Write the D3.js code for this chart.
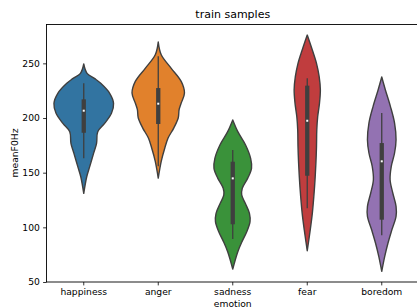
<!DOCTYPE html>
<html><head><meta charset="utf-8">
<script src="https://cdn.jsdelivr.net/npm/d3@7"></script>
<style>body{margin:0;background:#fff;overflow:hidden}svg{display:block}text{font-family:"DejaVu Sans",sans-serif;fill:#000}</style>
</head><body>
<script>
const categories = ["happiness","anger","sadness","fear","boredom"];
const colors = ["#3274a1","#e1812c","#3a923a","#c03d3e","#9372b2"];
const yTicks = [50,100,150,200,250];
// [meanF0Hz, relative density]
const happinessKde = [[249.4,0],[240.9,0.11],[236,0.37],[231.7,0.57],[222.6,0.87],[213.4,1.0],[204.3,0.93],[195.1,0.70],[187.5,0.47],[176.9,0.43],[167.7,0.33],[155.5,0.20],[146.3,0.10],[131.1,0]];
const angerKde = [[269.5,0],[257.9,0.10],[245.7,0.43],[233.5,0.77],[222.9,0.88],[213.7,0.77],[207.6,0.70],[200,0.67],[190.8,0.52],[181.7,0.33],[172.6,0.22],[160.4,0.10],[145.1,0]];
const sadnessKde = [[198.2,0],[187.5,0.17],[175.3,0.43],[163.1,0.60],[154,0.63],[144.8,0.50],[135.7,0.32],[129.6,0.30],[122,0.42],[112.8,0.56],[105.2,0.58],[96,0.47],[86.9,0.31],[77.7,0.17],[61.9,0]];
const fearKde = [[275.9,0],[262.2,0.17],[250,0.31],[237.8,0.40],[225.6,0.44],[213.4,0.41],[201.2,0.35],[189,0.32],[173.7,0.31],[158.6,0.29],[143.3,0.26],[128,0.22],[112.8,0.17],[97.6,0.10],[78.6,0]];
const boredomKde = [[237.5,0],[225.9,0.12],[210.7,0.29],[195.4,0.43],[180.2,0.48],[168,0.43],[155.8,0.32],[143.6,0.28],[131.4,0.37],[119.2,0.48],[110.1,0.48],[97.8,0.34],[85.7,0.21],[73.5,0.10],[59.8,0]];
const whiskerLow = [163.1,155.8,89.3,117.4,92.7];
const q1 = [186.5,194.5,102.8,147.2,107.0];
const median = [206.7,213.1,144.8,197.5,160.4];
const q3 = [217.1,227.4,160.0,229.6,177.1];
const whiskerHigh = [231.7,256.4,170.7,236.3,204.6];
const kdes = [happinessKde, angerKde, sadnessKde, fearKde, boredomKde];

const W = 417, H = 308;
const m = {left:46.5, top:24, right:419, bottom:282};
const svg = d3.select("body").append("svg").attr("width",W).attr("height",H);
const x = d3.scaleBand().domain(categories).range([m.left, m.right]).padding(0);
const y = d3.scaleLinear().domain([50, 286]).range([m.bottom, m.top]);
const wScale = d3.scaleLinear().domain([0, 1]).range([0, x.bandwidth()*0.4]);
const edge = "#3f3f3f";

categories.forEach((c,i)=>{
  const cx = x(c) + x.bandwidth()/2;
  const area = d3.area().curve(d3.curveCatmullRom.alpha(0.5))
    .y(d=>y(d[0])).x0(d=>cx - wScale(d[1])).x1(d=>cx + wScale(d[1]));
  svg.append("path").attr("d", area(kdes[i])).attr("fill", colors[i])
    .attr("stroke", edge).attr("stroke-width", 1.4).attr("stroke-linejoin","round");
  svg.append("line").attr("x1",cx).attr("x2",cx).attr("y1",y(whiskerLow[i])).attr("y2",y(whiskerHigh[i]))
    .attr("stroke",edge).attr("stroke-width",1.3);
  svg.append("line").attr("x1",cx).attr("x2",cx).attr("y1",y(q1[i])).attr("y2",y(q3[i]))
    .attr("stroke",edge).attr("stroke-width",4.3);
  svg.append("rect").attr("x",cx-1).attr("y",y(median[i])-1).attr("width",2).attr("height",2).attr("fill","#fff");
});

// spines
svg.append("rect").attr("x",m.left).attr("y",m.top+0.5).attr("width",m.right-m.left).attr("height",m.bottom-m.top-0.5)
  .attr("fill","none").attr("stroke","#000").attr("stroke-width",0.9);

// y axis
const yAxis = svg.append("g").attr("transform",`translate(${m.left},0)`)
  .call(d3.axisLeft(y).tickValues(yTicks).tickSize(3.4).tickPadding(3.2));
yAxis.select(".domain").remove();
yAxis.selectAll("line").attr("stroke","#000").attr("stroke-width",0.8);
yAxis.selectAll("text").style("font-size","9.2px").style("font-family","DejaVu Sans");

// x axis
const xAxis = svg.append("g").attr("transform",`translate(0,${m.bottom})`)
  .call(d3.axisBottom(x).tickSize(3.4).tickPadding(3.2));
xAxis.select(".domain").remove();
xAxis.selectAll("line").attr("stroke","#000").attr("stroke-width",0.8);
xAxis.selectAll("text").style("font-size","9.2px").style("font-family","DejaVu Sans");

svg.append("text").attr("x",(m.left+m.right)/2).attr("y",18.3).attr("text-anchor","middle")
  .style("font-size","11px").text("train samples");
svg.append("text").attr("x",(m.left+m.right)/2).attr("y",307.2).attr("text-anchor","middle")
  .style("font-size","9.2px").text("emotion");
svg.append("text").attr("transform",`translate(17.5,${(m.top+m.bottom)/2}) rotate(-90)`).attr("text-anchor","middle")
  .style("font-size","9.2px").text("meanF0Hz");
</script>
</body></html>
